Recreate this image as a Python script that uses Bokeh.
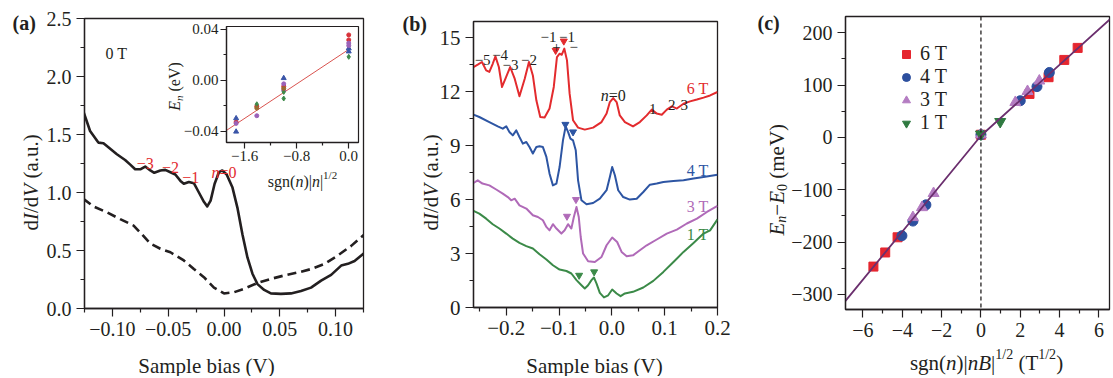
import math
from bokeh.plotting import figure
from bokeh.models import (Range1d, FixedTicker, CustomJSTickFormatter, Label,
                          Legend, LegendItem, Span, GridBox)
from bokeh.embed import file_html
from bokeh.resources import INLINE

FONT = "Liberation Serif"
INK = "#231f20"
RED = "#e32b2e"
BLUE = "#2d55a3"
PURPLE = "#b06ab8"
GREEN = "#3b8a48"

# ---------------- data: panel (a) ----------------
a_solid_v = [-0.126, -0.120, -0.1126, -0.108, -0.1036, -0.096, -0.0886, -0.084, -0.0796, -0.075,
             -0.0706, -0.066, -0.0625, -0.057, -0.0526, -0.048, -0.0436, -0.039, -0.036, -0.0315,
             -0.027, -0.0225, -0.018, -0.015, -0.012, -0.0084, -0.0045, -0.0015, 0.0024, 0.0075,
             0.012, 0.0165, 0.021, 0.0255, 0.030, 0.036, 0.042, 0.051, 0.060, 0.069,
             0.078, 0.087, 0.096, 0.105, 0.111, 0.117, 0.123, 0.126]
a_solid_g = [1.70, 1.53, 1.43, 1.425, 1.39, 1.33, 1.28, 1.24, 1.20, 1.20,
             1.224, 1.19, 1.17, 1.19, 1.195, 1.175, 1.155, 1.10, 1.075, 1.09,
             1.08, 1.00, 0.92, 0.88, 0.93, 1.075, 1.175, 1.19, 1.155, 1.046,
             0.87, 0.64, 0.44, 0.30, 0.21, 0.16, 0.13, 0.126, 0.13, 0.15,
             0.18, 0.24, 0.29, 0.37, 0.385, 0.41, 0.457, 0.48]
a_dash_v = [-0.126, -0.117, -0.105, -0.093, -0.081, -0.0736, -0.066, -0.057, -0.048, -0.036,
            -0.027, -0.018, -0.009, 0.000, 0.009, 0.018, 0.030, 0.042, 0.054, 0.066,
            0.078, 0.090, 0.102, 0.114, 0.126]
a_dash_g = [0.945, 0.88, 0.83, 0.77, 0.715, 0.64, 0.56, 0.515, 0.485, 0.414,
            0.34, 0.27, 0.18, 0.13, 0.14, 0.17, 0.22, 0.255, 0.285, 0.31,
            0.34, 0.385, 0.457, 0.54, 0.64]
a_level_text = ["\u22123", "\u22122", "\u22121"]
a_level_v = [-0.0705, -0.048, -0.0297]
a_level_g = [1.253, 1.213, 1.127]
a_xticks = [-0.10, -0.05, 0.0, 0.05, 0.10]
a_xminor = [-0.125, -0.075, -0.025, 0.025, 0.075, 0.125]
a_yticks = [0.0, 0.5, 1.0, 1.5, 2.0, 2.5]
a_yminor = [0.25, 0.75, 1.25, 1.75, 2.25]

# inset of (a): E_n versus sgn(n)|n|^1/2
in_red_x = [-1.732, -1.414, -1.0, 0.0, 0.0]
in_red_y = [-0.033, -0.0206, -0.005, 0.0354, 0.0315]
in_blue_x = [-1.732, -1.732, -1.0, 0.0, 0.0]
in_blue_y = [-0.030, -0.0405, 0.0015, 0.0248, 0.0224]
in_purple_x = [-1.732, -1.414, -1.0, -1.0, 0.0, 0.0]
in_purple_y = [-0.034, -0.028, -0.003, -0.008, 0.029, 0.027]
in_green_x = [-1.414, -1.0, -1.0, 0.0]
in_green_y = [-0.019, -0.0093, -0.0145, 0.0182]
in_brown_x = [-1.414, -1.0]
in_brown_y = [-0.022, -0.0066]
in_fit_x = [-1.88, 0.03]
in_fit_y = [-0.0395, 0.025]
in_xticks = [-1.6, -0.8, 0.0]
in_xminor = [-1.2, -0.4]
in_yticks = [-0.04, 0.0, 0.04]
in_yminor = [-0.02, 0.02]

# ---------------- data: panel (b) ----------------
b6_v = [-0.262, -0.254, -0.246, -0.238, -0.232, -0.2256, -0.2205, -0.214, -0.208, -0.2015,
        -0.1926, -0.184, -0.175, -0.165, -0.157, -0.1496, -0.143, -0.1356, -0.1274, -0.118,
        -0.110, -0.104, -0.0989, -0.095, -0.090, -0.085, -0.080, -0.0735, -0.064, -0.0513,
        -0.0355, -0.0196, -0.010, -0.0038, 0.0025, 0.009, 0.015, 0.0247, 0.040, 0.053,
        0.066, 0.0755, 0.085, 0.0945, 0.104, 0.1135, 0.123, 0.1356, 0.148, 0.161,
        0.1736, 0.186, 0.2]
b6_g = [13.37, 13.5, 13.65, 13.18, 13.1, 13.55, 13.96, 13.37, 12.26, 12.72,
        13.37, 12.72, 11.74, 12.72, 13.65, 12.9, 11.52, 10.59, 10.56, 11.06,
        12.26, 13.92, 14.11, 14.05, 14.39, 13.74, 11.89, 10.41, 10.0, 9.89,
        10.0, 10.31, 10.78, 11.42, 11.64, 11.42, 10.68, 10.31, 10.07, 10.31,
        10.68, 11.0, 10.78, 10.72, 11.0, 11.18, 11.06, 11.33, 11.46, 11.56,
        11.67, 11.79, 11.98]
b4_v = [-0.262, -0.251, -0.232, -0.216, -0.2066, -0.200, -0.194, -0.1876, -0.181, -0.175,
        -0.1686, -0.162, -0.156, -0.1496, -0.143, -0.137, -0.1306, -0.124, -0.118, -0.1116,
        -0.105, -0.099, -0.0926, -0.0875, -0.083, -0.0785, -0.0735, -0.0684, -0.064, -0.0576,
        -0.048, -0.0355, -0.0228, -0.010, -0.0038, 0.0006, 0.0057, 0.012, 0.0215, 0.034,
        0.047, 0.0595, 0.072, 0.085, 0.0975, 0.1166, 0.1356, 0.1546, 0.1736, 0.2]
b4_g = [10.72, 10.59, 10.31, 10.07, 9.94, 10.07, 9.76, 9.57, 9.85, 9.48,
        9.11, 9.2, 8.92, 8.56, 8.92, 8.96, 8.92, 8.37, 7.44, 6.79,
        6.89, 7.81, 9.29, 10.07, 9.76, 9.39, 9.29, 8.74, 7.07, 5.96,
        5.74, 5.81, 6.05, 6.52, 7.26, 7.81, 7.35, 6.52, 6.14, 6.0,
        6.05, 6.42, 6.83, 6.89, 6.98, 7.03, 7.07, 7.17, 7.26, 7.38]
b3_v = [-0.262, -0.254, -0.245, -0.232, -0.219, -0.2066, -0.197, -0.1907, -0.184, -0.175,
        -0.162, -0.1496, -0.140, -0.1306, -0.124, -0.118, -0.1116, -0.105, -0.0956, -0.0894,
        -0.083, -0.0767, -0.072, -0.067, -0.0627, -0.059, -0.0545, -0.045, -0.0323, -0.0196,
        -0.010, 0.0006, 0.010, 0.0184, 0.028, 0.040, 0.053, 0.066, 0.085, 0.104,
        0.123, 0.142, 0.161, 0.180, 0.2]
b3_g = [6.92, 7.07, 6.89, 6.79, 6.56, 6.33, 6.14, 5.96, 6.05, 5.68,
        5.5, 5.13, 5.03, 4.85, 4.48, 4.29, 4.63, 4.39, 4.11, 4.29,
        4.63, 4.39, 5.03, 5.59, 5.03, 3.92, 3.0, 2.57, 2.53, 2.81,
        3.46, 3.89, 3.64, 3.09, 2.85, 2.9, 3.18, 3.46, 3.78, 4.11,
        4.33, 4.67, 4.94, 5.31, 5.65]
b1_v = [-0.262, -0.251, -0.238, -0.2256, -0.213, -0.200, -0.1876, -0.175, -0.162, -0.1496,
        -0.137, -0.124, -0.1116, -0.099, -0.086, -0.0767, -0.067, -0.0576, -0.0513, -0.045,
        -0.0386, -0.034, -0.029, -0.0228, -0.015, -0.007, 0.0006, 0.009, 0.0165, 0.0247,
        0.040, 0.0595, 0.0785, 0.0975, 0.1166, 0.1356, 0.1546, 0.1736, 0.186, 0.2]
b1_g = [5.37, 5.22, 4.94, 4.63, 4.39, 4.11, 3.83, 3.59, 3.41, 3.28,
        2.96, 2.67, 2.35, 2.11, 2.03, 1.89, 1.52, 1.24, 1.06, 1.24,
        1.52, 1.67, 1.33, 0.81, 0.56, 0.68, 1.0, 0.78, 0.63, 0.78,
        0.87, 1.11, 1.48, 1.98, 2.53, 3.09, 3.59, 4.11, 4.29, 4.9]
b6_mark_v, b6_mark_g = [-0.1065, -0.091], [14.29, 14.81]
b4_mark_v, b4_mark_g = [-0.088, -0.0735], [10.18, 9.76]
b3_mark_v, b3_mark_g = [-0.085, -0.068], [5.07, 6.0]
b1_mark_v, b1_mark_g = [-0.062, -0.0336], [1.79, 1.98]
b_series_names = ["6 T", "4 T", "3 T", "1 T"]
b_series_label_g = [12.17, 7.59, 5.63, 4.07]
b_level_text = ["\u22125", "\u22124", "\u22123", "\u22122", "\u22121", "\u22121", "+", "\u2212", "1", "2", "3"]
b_level_v = [-0.2447, -0.2116, -0.192, -0.157, -0.1198, -0.085, -0.105, -0.0722, 0.0773, 0.1135, 0.137]
b_level_g = [13.74, 14.02, 13.46, 13.74, 15.03, 15.03, 14.46, 14.5, 11.05, 11.24, 11.24]
b_xticks = [-0.2, -0.1, 0.0, 0.1, 0.2]
b_xminor = [-0.25, -0.15, -0.05, 0.05, 0.15]
b_yticks = [0, 3, 6, 9, 12, 15]
b_yminor = [1.5, 4.5, 7.5, 10.5, 13.5]

# ---------------- data: panel (c) ----------------
c6_x = [-5.47, -4.87, -4.24, 0.0, 2.47, 3.44, 4.24, 4.92]
c6_y = [-247, -220, -191, 5, 83, 115, 148, 171]
c4_x = [-4.02, -3.46, -2.80, 0.0, 2.0, 2.85, 3.48]
c4_y = [-188, -160, -129, 5, 70, 97, 124]
c3_x = [-3.46, -3.0, -2.41, 0.0, 1.75, 2.37, 2.97]
c3_y = [-153, -134, -107, 5, 67, 88, 108]
c1_x = [0.0, 0.98]
c1_y = [6, 30]
c_fit_x = [-6.9, 0.0, 6.75]
c_fit_y = [-313, 3, 232]
c_xticks = [-6, -4, -2, 0, 2, 4, 6]
c_xminor = [-5, -3, -1, 1, 3, 5]
c_yticks = [-300, -200, -100, 0, 100, 200]
c_yminor = [-250, -150, -50, 50, 150]

# ---------------- helpers ----------------
W_REG = {' ': 250, '(': 333, ')': 333, '|': 200, '/': 278, '.': 250, '\u2212': 564, '=': 564,
         '+': 564, '-': 333, 'a': 444, 'b': 500, 'c': 444, 'd': 500, 'e': 444, 'g': 500,
         'i': 278, 'l': 278, 'm': 778, 'n': 500, 'p': 500, 's': 389, 'u': 500, 'S': 556,
         'T': 611, 'V': 722, 'I': 333, 'E': 611, 'B': 667}
W_IT = {'n': 500, 'E': 611, 'B': 611, 'I': 333, 'V': 611}


def text_width(s, size, italic):
    tot = 0
    for ch in s:
        if italic and ch in W_IT:
            tot += W_IT[ch]
        else:
            tot += W_REG.get(ch, 500)
    return tot * size / 1000.0


def rich(p, x, y, segs, units="data", angle=0.0, anchor="left", color=INK):
    widths = [text_width(t, sz, "italic" in st) for (t, sz, st, sh) in segs]
    total = sum(widths)
    pos = {"left": 0.0, "center": -total / 2.0, "right": -total}[anchor]
    for (t, sz, st, sh), w in zip(segs, widths):
        core = t.strip(" ")
        lead = len(t) - len(t.lstrip(" "))
        start = pos + lead * 250 * sz / 1000.0
        if angle:
            xo, yo = -sh, start
        else:
            xo, yo = start, sh
        p.add_layout(Label(x=x, y=y, x_units=units, y_units=units, x_offset=xo, y_offset=yo,
                           text=core, angle=angle, text_font=FONT, text_font_size=f"{sz}px",
                           text_font_style=st, text_color=color, text_align="left",
                           text_baseline="alphabetic"))
        pos += w


def fmt(d):
    return CustomJSTickFormatter(code=(
        "const t = Math.abs(tick) < 1e-9 ? 0 : tick;"
        f"return t.toFixed({d}).replace('-', '\u2212');"))


def style(p, xt, xm, xd, yt, ym, yd, size="20px", major=8, minor=4, standoff=5):
    p.xaxis.ticker = FixedTicker(ticks=xt, minor_ticks=xm)
    p.yaxis.ticker = FixedTicker(ticks=yt, minor_ticks=ym)
    p.xaxis.formatter = fmt(xd)
    p.yaxis.formatter = fmt(yd)
    for ax in (p.xaxis[0], p.yaxis[0]):
        ax.major_label_text_font = FONT
        ax.major_label_text_font_size = size
        ax.major_label_text_color = INK
        ax.axis_line_color = INK
        ax.axis_line_width = 1.3
        ax.major_tick_in = 0
        ax.major_tick_out = major
        ax.minor_tick_in = 0
        ax.minor_tick_out = minor
        ax.major_tick_line_color = INK
        ax.minor_tick_line_color = INK
        ax.major_tick_line_width = 1.2
        ax.minor_tick_line_width = 1.2
        ax.major_label_standoff = standoff
    p.xgrid.visible = False
    p.ygrid.visible = False
    p.outline_line_color = INK
    p.outline_line_width = 1.3


def make_fig(width, height, xr, yr, left, right, top, bottom):
    return figure(width=width, height=height, x_range=Range1d(*xr), y_range=Range1d(*yr),
                  output_backend="svg", toolbar_location=None, frame_align=False,
                  min_border_left=left, min_border_right=right,
                  min_border_top=top, min_border_bottom=bottom)


# ---------------- panel (a) ----------------
fa = make_fig(386, 376, (-0.125, 0.125), (0.0, 2.5), 84, 23, 18, 68)
style(fa, a_xticks, a_xminor, 2, a_yticks, a_yminor, 1)
fa.line(a_dash_v, a_dash_g, line_color=INK, line_width=2.6, line_dash="9 5")
fa.line(a_solid_v, a_solid_g, line_color=INK, line_width=2.6, line_join="round")
for t, v, g in zip(a_level_text, a_level_v, a_level_g):
    rich(fa, v, g, [(t, 16, "normal", 0)], anchor="center", color=RED)
rich(fa, 0.0, 1.175, [("n", 16, "italic", 0), ("=0", 16, "normal", 0)], anchor="center", color=RED)
rich(fa, -0.0964, 2.196, [("0 T", 16, "normal", 0)], anchor="center")

# inset
fi = make_fig(206, 163, (-1.88, 0.15), (-0.049, 0.042), 71, 3, 4, 43)
style(fi, in_xticks, in_xminor, 1, in_yticks, in_yminor, 2, size="15px", major=6, minor=3,
      standoff=2)
fi.border_fill_alpha = 0.0
fi.background_fill_color = "white"
fi.outline_line_width = 1.2
fi.line(in_fit_x, in_fit_y, line_color="#d9534f", line_width=1.0)
fi.scatter(in_red_x, in_red_y, marker="circle", size=4, color="#d8323a")
fi.scatter(in_blue_x, in_blue_y, marker="triangle", size=5, color="#3a55a8")
fi.scatter(in_purple_x, in_purple_y, marker="circle", size=4, color="#9b62b8")
fi.scatter(in_green_x, in_green_y, marker="diamond", size=5, color="#3d8a4a")
fi.scatter(in_brown_x, in_brown_y, marker="circle", size=4, color="#9a6a30")
fi.margin = (22, 0, 0, 155)

# ---------------- panel (b) ----------------
fb = make_fig(356, 376, (-0.262, 0.2), (0.0, 15.9), 87, 25, 21, 69)
style(fb, b_xticks, b_xminor, 1, b_yticks, b_yminor, 0, size="21px")
for vv, gg, mv, mg, col in [(b1_v, b1_g, b1_mark_v, b1_mark_g, GREEN),
                            (b3_v, b3_g, b3_mark_v, b3_mark_g, PURPLE),
                            (b4_v, b4_g, b4_mark_v, b4_mark_g, BLUE),
                            (b6_v, b6_g, b6_mark_v, b6_mark_g, RED)]:
    fb.line(vv, gg, line_color=col, line_width=2.0, line_join="round")
    fb.scatter(mv, mg, marker="inverted_triangle", size=7, color=col)
for name, g, col in zip(b_series_names, b_series_label_g, [RED, BLUE, PURPLE, GREEN]):
    rich(fb, 0.183, g, [(name, 16, "normal", 0)], anchor="right", color=col)
for t, v, g in zip(b_level_text, b_level_v, b_level_g):
    rich(fb, v, g, [(t, 15, "normal", 0)], anchor="center")
rich(fb, 0.0025, 11.79, [("n", 16, "italic", 0), ("=0", 16, "normal", 0)], anchor="center")

# ---------------- panel (c) ----------------
fc = make_fig(370, 376, (-6.89, 6.54), (-329, 231), 103, 3, 16, 67)
style(fc, c_xticks, c_xminor, 0, c_yticks, c_yminor, 0)
fc.add_layout(Span(location=0, dimension="height", line_color=INK, line_dash="4 3",
                   line_width=1.3))
r6 = fc.scatter(c6_x, c6_y, marker="square", size=9, color="#e5262f")
r4 = fc.scatter(c4_x, c4_y, marker="circle", size=10, color="#2c4f9e")
r3 = fc.scatter(c3_x, c3_y, marker="triangle", size=11, color="#b47cc2")
r1 = fc.scatter(c1_x, c1_y, marker="inverted_triangle", size=11, color="#2f7a40")
fc.line(c_fit_x, c_fit_y, line_color="#6b2f6e", line_width=1.8)
leg = Legend(items=[LegendItem(label=n, renderers=[r]) for n, r in
                    zip(b_series_names, [r6, r4, r3, r1])],
             location=(51, 175))
leg.background_fill_alpha = 0.0
leg.border_line_alpha = 0.0
leg.label_text_font = FONT
leg.label_text_font_size = "20px"
leg.label_text_color = INK
leg.glyph_width = 20
leg.glyph_height = 22
leg.label_height = 22
leg.spacing = 0
leg.padding = 0
leg.margin = 0
leg.label_standoff = 4
fc.add_layout(leg)

# ---------------- overlay for texts outside the plot frames (page pixels) ----------------
ov = figure(width=1112, height=376, x_range=Range1d(0, 1112), y_range=Range1d(376, 0),
            output_backend="svg", toolbar_location=None, x_axis_type=None, y_axis_type=None,
            frame_align=False,
            min_border_left=0, min_border_right=0, min_border_top=0, min_border_bottom=0)
ov.outline_line_color = None
ov.background_fill_alpha = 0.0
ov.border_fill_alpha = 0.0

rich(ov, 12, 22, [("(a)", 20, "bold", 0)])
rich(ov, 402, 23, [("(b)", 20, "bold", 0)])
rich(ov, 757, 22, [("(c)", 20, "bold", 0)])
dIdV = [("d", 21, "normal", 0), ("I", 21, "italic", 0), ("/d", 21, "normal", 0),
        ("V", 21, "italic", 0), (" (a.u.)", 21, "normal", 0)]
rich(ov, 30, 230, dIdV, angle=math.pi / 2)
rich(ov, 430, 230, dIdV, angle=math.pi / 2)
rich(ov, 206, 365, [("Sample bias (V)", 21, "normal", 0)], anchor="center")
rich(ov, 594, 365, [("Sample bias (V)", 21, "normal", 0)], anchor="center")
rich(ov, 776, 235, [("E", 21, "italic", 0), ("n", 14, "italic", -5), ("\u2212", 21, "normal", 0),
                    ("E", 21, "italic", 0), ("0", 14, "normal", -5), (" (meV)", 21, "normal", 0)],
     angle=math.pi / 2)
rich(ov, 986, 362, [("sgn(", 21, "normal", 0), ("n", 21, "italic", 0), (")|", 21, "normal", 0),
                    ("nB", 21, "italic", 0), ("|", 21, "normal", 0), ("1/2", 14, "normal", 8),
                    (" (T", 21, "normal", 0), ("1/2", 14, "normal", 8), (")", 21, "normal", 0)],
     anchor="center")
rich(ov, 302, 181, [("sgn(", 16, "normal", 0), ("n", 16, "italic", 0), (")|", 16, "normal", 0),
                    ("n", 16, "italic", 0), ("|", 16, "normal", 0), ("1/2", 11, "normal", 7)],
     anchor="center")
rich(ov, 174, 86, [("E", 16, "italic", 0), ("n", 11, "italic", -4), (" (eV)", 16, "normal", 0)],
     angle=math.pi / 2, anchor="center")

grid = GridBox(children=[(fa, 0, 0), (fi, 0, 0), (fb, 0, 1), (fc, 0, 2), (ov, 0, 0, 1, 3)])

with open("out.html", "w", encoding="utf-8") as f:
    f.write(file_html(grid, INLINE))
